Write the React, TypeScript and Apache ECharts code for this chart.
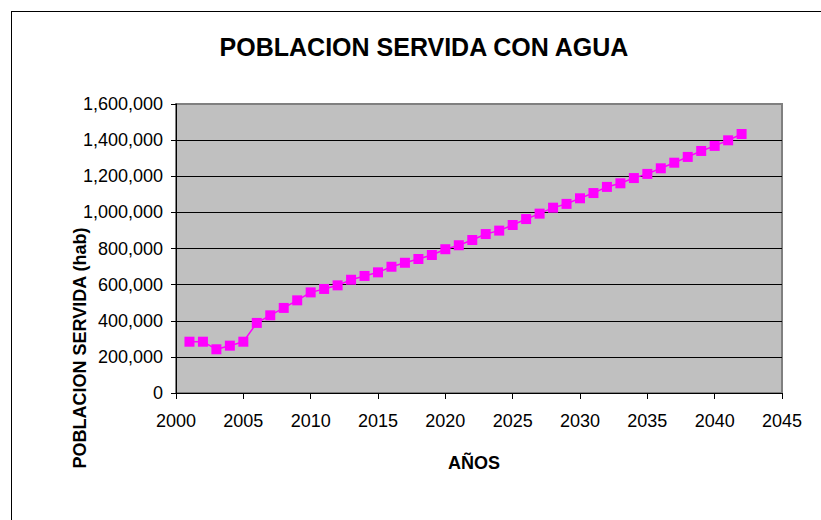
import React, { useEffect, useRef } from "react";
import * as echarts from "echarts";

const years: number[] = [
  2001, 2002, 2003, 2004, 2005, 2006, 2007, 2008, 2009, 2010,
  2011, 2012, 2013, 2014, 2015, 2016, 2017, 2018, 2019, 2020,
  2021, 2022, 2023, 2024, 2025, 2026, 2027, 2028, 2029, 2030,
  2031, 2032, 2033, 2034, 2035, 2036, 2037, 2038, 2039, 2040,
  2041, 2042,
];

const poblacion: number[] = [
  284000, 284000, 242000, 262000, 284000, 388000, 430000, 471000, 513000, 557000,
  576000, 596000, 627000, 648000, 668000, 699000, 721000, 742000, 764000, 796000,
  818000, 847000, 880000, 899000, 930000, 963000, 993000, 1026000, 1047000, 1078000,
  1107000, 1141000, 1161000, 1190000, 1213000, 1244000, 1275000, 1307000, 1340000, 1368000,
  1399000, 1434000,
];

const titleText = "POBLACION SERVIDA CON AGUA";
const yAxisName = "POBLACION SERVIDA (hab)";
const xAxisName = "AÑOS";

const FONT = "'Liberation Sans', Arial, sans-serif";

export default function App() {
  const ref = useRef<HTMLDivElement>(null);

  useEffect(() => {
    if (!ref.current) return;
    const chart = echarts.init(ref.current, undefined, { renderer: "svg" });
    const data = years.map((y, i) => [y, poblacion[i]]);
    chart.setOption({
      animation: false,
      backgroundColor: "#ffffff",
      textStyle: { fontFamily: FONT },
      grid: {
        left: 176,
        top: 104,
        right: 39,
        bottom: 127,
        show: true,
        backgroundColor: "#C0C0C0",
        borderColor: "#808080",
        borderWidth: 2,
      },
      xAxis: {
        type: "value",
        min: 2000,
        max: 2045,
        interval: 5,
        axisLine: { show: true, onZero: false, lineStyle: { color: "#000", width: 1 } },
        axisTick: { show: true, length: 6, lineStyle: { color: "#000" } },
        axisLabel: {
          color: "#000",
          fontSize: 18,
          fontFamily: FONT,
          margin: 19,
          formatter: (v: number) => String(v),
        },
        splitLine: { show: false },
      },
      yAxis: {
        type: "value",
        min: 0,
        max: 1600000,
        interval: 200000,
        axisLine: { show: true, lineStyle: { color: "#000", width: 1 } },
        axisTick: { show: true, length: 5, lineStyle: { color: "#000" } },
        axisLabel: {
          color: "#000",
          fontSize: 18,
          fontFamily: FONT,
          margin: 13,
          formatter: (v: number) => v.toLocaleString("en-US"),
        },
        splitLine: {
          show: true,
          lineStyle: {
            color: ["#000", "#000", "#000", "#000", "#000", "#000", "#000", "#000", "#808080"],
            width: 1,
          },
        },
      },
      series: [
        {
          type: "line",
          data,
          symbol: "rect",
          symbolSize: 10,
          itemStyle: { color: "#FF00FF" },
          lineStyle: { color: "#FF00FF", width: 1.5 },
        },
      ],
      graphic: [
        {
          type: "line",
          shape: { x1: 11, y1: 11.5, x2: 821, y2: 11.5 },
          style: { stroke: "#000", lineWidth: 1 },
        },
        {
          type: "line",
          shape: { x1: 11.5, y1: 11, x2: 11.5, y2: 520 },
          style: { stroke: "#000", lineWidth: 1 },
        },
        {
          type: "text",
          x: 424,
          y: 47,
          style: {
            text: titleText,
            font: `bold 25px ${FONT}`,
            fill: "#000",
            textAlign: "center",
            textVerticalAlign: "middle",
          },
        },
        {
          type: "text",
          x: 80,
          y: 348,
          rotation: Math.PI / 2,
          style: {
            text: yAxisName,
            font: `bold 18px ${FONT}`,
            fill: "#000",
            textAlign: "center",
            textVerticalAlign: "middle",
          },
        },
        {
          type: "text",
          x: 474,
          y: 463,
          style: {
            text: xAxisName,
            font: `bold 18px ${FONT}`,
            fill: "#000",
            textAlign: "center",
            textVerticalAlign: "middle",
          },
        },
      ],
    });
    return () => chart.dispose();
  }, []);

  return (
    <div
      ref={ref}
      style={{ position: "absolute", left: 0, top: 0, width: 821, height: 520 }}
    />
  );
}
